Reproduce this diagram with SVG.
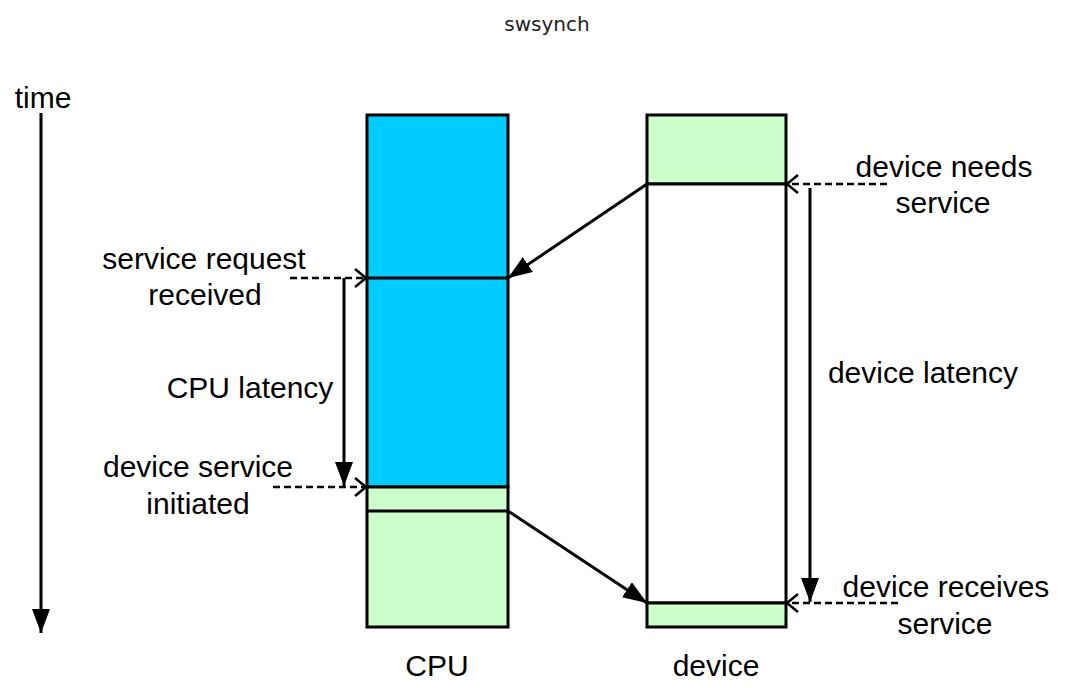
<svg xmlns="http://www.w3.org/2000/svg" width="1070" height="688" viewBox="0 0 1070 688">
<style>
.lbl{font-family:"Liberation Sans",Arial,sans-serif;font-size:30px;fill:#000;text-anchor:middle}
.ttl{font-family:"DejaVu Sans",sans-serif;font-size:20px;fill:#222;text-anchor:middle}
.box{stroke:#000;stroke-width:3}
.ln{stroke:#000;stroke-width:3;fill:none}
.dash{stroke:#000;stroke-width:2.5;stroke-dasharray:7,4;fill:none}
</style>
<defs>
<marker id="fill" markerUnits="userSpaceOnUse" viewBox="0 0 24 18" refX="24" refY="9" markerWidth="24" markerHeight="18" orient="auto">
<path d="M0,0 L24,9 L0,18 z" fill="#000"/>
</marker>
<marker id="open" markerUnits="userSpaceOnUse" viewBox="0 0 14 20" refX="12" refY="10" markerWidth="14" markerHeight="20" orient="auto">
<path d="M1,1 L12,10 L1,19" fill="none" stroke="#000" stroke-width="2.5"/>
</marker>
</defs>
<text class="ttl" x="547" y="31">swsynch</text>
<g id="time">
<text class="lbl" x="43" y="108">time</text>
<line class="ln" x1="41" y1="113" x2="41" y2="633" marker-end="url(#fill)"/>
</g>
<g id="cpu">
<rect class="box" x="367" y="115" width="141" height="372" fill="#00ccff"/>
<rect class="box" x="367" y="487" width="141" height="140" fill="#ccffcc"/>
<line class="ln" x1="367" y1="278" x2="508" y2="278"/>
<line class="ln" x1="367" y1="511" x2="508" y2="511"/>
<text class="lbl" x="437" y="676">CPU</text>
</g>
<g id="device">
<rect class="box" x="647" y="115" width="139" height="69" fill="#ccffcc"/>
<rect class="box" x="647" y="184" width="139" height="419" fill="#ffffff"/>
<rect class="box" x="647" y="603" width="139" height="24" fill="#ccffcc"/>
<text class="lbl" x="716" y="676">device</text>
</g>
<g id="labels">
<text class="lbl" x="944" y="177">device needs</text>
<text class="lbl" x="943" y="213">service</text>
<text class="lbl" x="923" y="383">device latency</text>
<text class="lbl" x="946" y="597">device receives</text>
<text class="lbl" x="945" y="634">service</text>
<text class="lbl" x="204" y="269">service request</text>
<text class="lbl" x="205" y="305">received</text>
<text class="lbl" x="250" y="398">CPU latency</text>
<text class="lbl" x="198" y="477">device service</text>
<text class="lbl" x="198" y="514">initiated</text>
</g>
<g id="connectors">
<line class="ln" x1="647" y1="184" x2="508" y2="278" marker-end="url(#fill)"/>
<line class="ln" x1="508" y1="511" x2="647" y2="603" marker-end="url(#fill)"/>
<line class="ln" x1="810" y1="188" x2="810" y2="602" marker-end="url(#fill)"/>
<line class="ln" x1="344" y1="278" x2="344" y2="486" marker-end="url(#fill)"/>
<line class="dash" x1="887" y1="184" x2="787" y2="184" marker-end="url(#open)"/>
<line class="dash" x1="898" y1="603" x2="787" y2="603" marker-end="url(#open)"/>
<line class="dash" x1="290" y1="278" x2="366" y2="278" marker-end="url(#open)"/>
<line class="dash" x1="273" y1="487" x2="366" y2="487" marker-end="url(#open)"/>
</g>
</svg>
